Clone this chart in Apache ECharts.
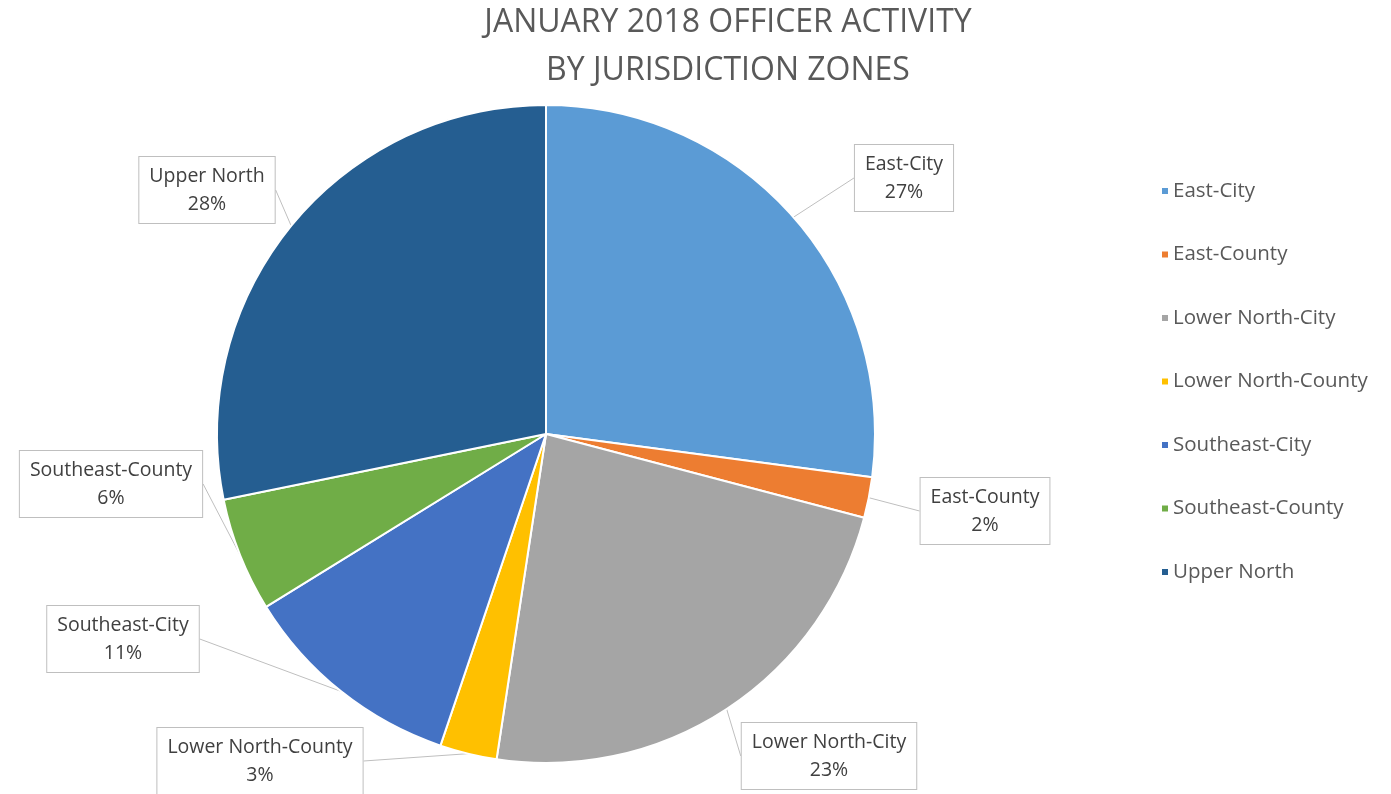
<!DOCTYPE html>
<html>
<head>
<meta charset="utf-8">
<script src="https://cdn.jsdelivr.net/npm/echarts@6/dist/echarts.min.js"></script>
<style>
  html, body { margin: 0; padding: 0; background: #fff; }
  #chart { width: 1391px; height: 794px; }
</style>
</head>
<body>
<div id="chart"></div>
<script>
const zones = ["East-City", "East-County", "Lower North-City", "Lower North-County", "Southeast-City", "Southeast-County", "Upper North"];
const shares = [27.1, 2.0, 23.3, 2.8, 11.0, 5.6, 28.2];
const colors = ["#5B9BD5", "#ED7D31", "#A5A5A5", "#FFC000", "#4472C4", "#70AD47", "#255E91"];
// where each callout box sits (centre, px)
const calloutSpots = [[904, 178], [985, 511], [829, 756], [260, 761], [123, 639], [111, 484], [207, 190]];

const chart = echarts.init(document.getElementById("chart"));
chart.setOption({
  animation: false,
  title: {
    text: "JANUARY 2018 OFFICER ACTIVITY\nBY JURISDICTION ZONES",
    left: 723,
    textAlign: "center",
    top: -6,
    textStyle: {
      fontFamily: "Open Sans",
      fontWeight: "normal",
      fontSize: 32,
      lineHeight: 48,
      color: "#595959",
    },
  },
  legend: {
    orient: "vertical",
    left: 1155,
    top: 175,
    itemWidth: 8,
    itemHeight: 8,
    itemGap: 41.5,
    icon: "rect",
    data: zones,
    textStyle: {
      fontFamily: "Open Sans",
      fontSize: 20.5,
      lineHeight: 22,
      color: "#595959",
      padding: [0, 0, 0, -1],
    },
  },
  series: [
    {
      type: "pie",
      center: [546, 434],
      radius: 329,
      startAngle: 90,
      clockwise: true,
      itemStyle: { borderColor: "#fff", borderWidth: 2 },
      label: {
        show: true,
        formatter: (p) => p.name + "\n" + Math.round(p.percent) + "%",
        fontFamily: "Open Sans",
        fontSize: 19.5,
        lineHeight: 28,
        color: "#404040",
        backgroundColor: "#fff",
        borderColor: "#bfbfbf",
        borderWidth: 1,
        padding: [6, 10, 4, 10],
        align: "center",
      },
      labelLine: {
        show: true,
        length: 0,
        length2: 0,
        lineStyle: { color: "#bfbfbf", width: 1 },
      },
      labelLayout: (params) => {
        const s = calloutSpots[params.dataIndex];
        return { x: s[0], y: s[1], align: "center", verticalAlign: "middle" };
      },
      data: zones.map((z, i) => ({
        name: z,
        value: shares[i],
        itemStyle: { color: colors[i] },
      })),
    },
  ],
});
</script>
</body>
</html>
